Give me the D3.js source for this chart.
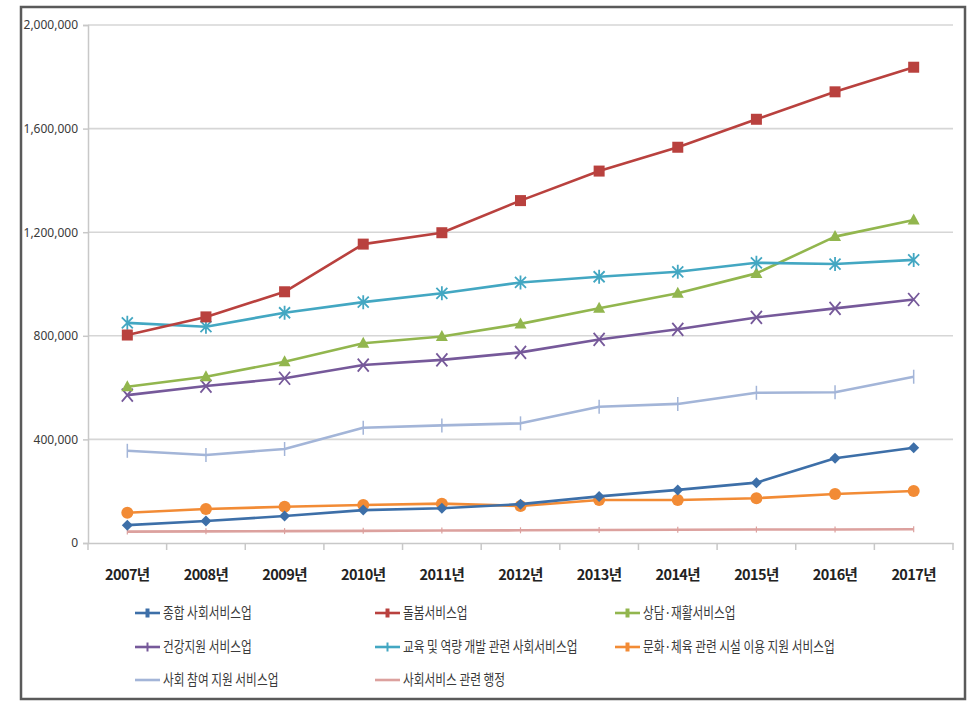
<!DOCTYPE html>
<html><head><meta charset="utf-8">
<script src="https://cdn.jsdelivr.net/npm/d3@7"></script>
<style>html,body{margin:0;padding:0;background:#fff;}svg{display:block;}</style>
</head><body>
<svg id="chart" width="974" height="701"></svg>
<script>
const years = ["2007년","2008년","2009년","2010년","2011년","2012년","2013년","2014년","2015년","2016년","2017년"];
const yTicks = [0, 400000, 800000, 1200000, 1600000, 2000000];

const seriesNames = ["종합 사회서비스업","돌봄서비스업","상담·재활서비스업","건강지원 서비스업","교육 및 역량 개발 관련 사회서비스업","문화·체육 관련 시설 이용 지원 서비스업","사회 참여 지원 서비스업","사회서비스 관련 행정"];
const s종합 = [69000, 85000, 104000, 127000, 134000, 150000, 180000, 205000, 233000, 327000, 368000];
const s돌봄 = [803000, 873000, 970000, 1154000, 1198000, 1322000, 1436000, 1528000, 1636000, 1742000, 1837000];
const s상담 = [603000, 642000, 700000, 771000, 797000, 846000, 906000, 964000, 1041000, 1183000, 1247000];
const s건강 = [571000, 606000, 636000, 687000, 707000, 736000, 786000, 825000, 871000, 906000, 940000];
const s교육 = [850000, 835000, 889000, 930000, 964000, 1006000, 1028000, 1047000, 1082000, 1077000, 1093000];
const s문화 = [117000, 131000, 140000, 147000, 152000, 143000, 166000, 166000, 173000, 189000, 201000];
const s참여 = [356000, 340000, 363000, 445000, 454000, 462000, 526000, 537000, 580000, 582000, 642000];
const s행정 = [44000, 45000, 46000, 47000, 48000, 49000, 50000, 51000, 52000, 52000, 53000];
const seriesValues = [s종합, s돌봄, s상담, s건강, s교육, s문화, s참여, s행정];

const colors = ["#3d6fa8","#b9413e","#92b64e","#76599a","#43a7c2","#f28b35","#a3b5d8","#dca19e"];
const markers = ["diamond","square","triangle","x","asterisk","circle","plus","tick"];

const svg = d3.select("#chart");
// outer frame
svg.append("rect").attr("x",21).attr("y",7).attr("width",944).attr("height",692)
  .attr("fill","none").attr("stroke","#5a5a5a").attr("stroke-width",2.5);

const L=88, R=953, T=25, B=543;
const x = d3.scaleBand().domain(years).range([L,R]);
const y = d3.scaleLinear().domain([0,2000000]).range([B,T]);
const cx = d => x(d)+x.bandwidth()/2;

// gridlines
svg.append("g").selectAll("line").data(yTicks.filter(t=>t>0)).join("line")
  .attr("x1",L).attr("x2",R).attr("y1",d=>y(d)).attr("y2",d=>y(d))
  .attr("stroke","#d6d6d6").attr("stroke-width",1.6);

// y axis
const yAxis = svg.append("g").attr("transform",`translate(${L},0)`)
  .call(d3.axisLeft(y).tickValues(yTicks).tickFormat(d3.format(",")).tickSize(5).tickPadding(5));
yAxis.select(".domain").attr("stroke","#c8c8c8").attr("stroke-width",1.5);
yAxis.selectAll(".tick line").attr("stroke","#c8c8c8").attr("stroke-width",1.5);
yAxis.selectAll("text").attr("font-family","'Liberation Sans Narrow','Noto Sans',sans-serif")
  .attr("font-size",12).attr("fill","#3a3a3a");

// x axis
const xAxis = svg.append("g").attr("transform",`translate(0,${B})`)
  .call(d3.axisBottom(x).tickSize(0));
xAxis.select(".domain").attr("stroke","#c8c8c8").attr("stroke-width",1.5);
xAxis.selectAll("text").attr("y",32).attr("dy","0.35em")
  .attr("font-family","'Liberation Sans Narrow','Noto Sans CJK KR',sans-serif")
  .attr("font-size",14.5).attr("font-weight","bold").attr("fill","#222").attr("letter-spacing","-0.6px");
// category boundary ticks
svg.append("g").selectAll("line").data(years.concat(["end"])).join("line")
  .attr("x1",(d,i)=>L+i*x.step()).attr("x2",(d,i)=>L+i*x.step())
  .attr("y1",B).attr("y2",B+7).attr("stroke","#c8c8c8").attr("stroke-width",1.5);

function drawMarker(g, type, color, px, py){
  const s = 5.5;
  if(type==="diamond"){
    g.append("path").attr("d",`M${px},${py-s}L${px+s},${py}L${px},${py+s}L${px-s},${py}Z`).attr("fill",color);
  } else if(type==="square"){
    g.append("rect").attr("x",px-5.5).attr("y",py-5.5).attr("width",11).attr("height",11).attr("fill",color);
  } else if(type==="triangle"){
    g.append("path").attr("d",`M${px},${py-6.5}L${px+6},${py+4.5}L${px-6},${py+4.5}Z`).attr("fill",color);
  } else if(type==="circle"){
    g.append("circle").attr("cx",px).attr("cy",py).attr("r",6).attr("fill",color);
  } else if(type==="x"){
    g.append("path").attr("d",`M${px-5.5},${py-6.5}L${px+5.5},${py+6.5}M${px-5.5},${py+6.5}L${px+5.5},${py-6.5}`)
      .attr("stroke",color).attr("stroke-width",1.8);
  } else if(type==="asterisk"){
    g.append("path").attr("d",`M${px-5.5},${py-5.5}L${px+5.5},${py+5.5}M${px-5.5},${py+5.5}L${px+5.5},${py-5.5}M${px},${py-7}L${px},${py+7}`)
      .attr("stroke",color).attr("stroke-width",1.8);
  } else if(type==="plus"){
    g.append("path").attr("d",`M${px},${py-7}L${px},${py+7}`).attr("stroke",color).attr("stroke-width",1.5);
  } else if(type==="tick"){
    g.append("path").attr("d",`M${px},${py-3}L${px},${py+3}`).attr("stroke",color).attr("stroke-width",1.2);
  }
}

const line = d3.line().x((d,i)=>cx(years[i])).y(d=>y(d));
// draw order: back to front
const order = [7,6,5,0,3,2,4,1];
order.forEach(k=>{
  const g = svg.append("g");
  g.append("path").datum(seriesValues[k]).attr("d",line).attr("fill","none")
    .attr("stroke",colors[k]).attr("stroke-width",2.6).attr("stroke-linejoin","round");
  seriesValues[k].forEach((v,i)=>drawMarker(g, markers[k], colors[k], cx(years[i]), y(v)));
});

// legend
const legX = [135, 375, 615];
const legY = [613, 647, 680];
const lg = svg.append("g");
seriesNames.forEach((name,k)=>{
  const col = k%3, row = Math.floor(k/3);
  const gx = legX[col], gy = legY[row];
  const g = lg.append("g");
  g.append("line").attr("x1",gx).attr("x2",gx+25).attr("y1",gy).attr("y2",gy)
    .attr("stroke",colors[k]).attr("stroke-width",2.6);
  if(k<6) {
    const m = markers[k];
    const w = (m==="diamond"||m==="square"||m==="triangle"||m==="circle") ? 4 : 2;
    g.append("path").attr("d",`M${gx+12.5},${gy-4.5}L${gx+12.5},${gy+4.5}`).attr("stroke",colors[k]).attr("stroke-width",w);
  }
  g.append("text").attr("transform",`translate(${gx+28},${gy}) scale(0.78,1)`).attr("dy","0.36em")
    .attr("font-family","'Noto Sans CJK KR',sans-serif").attr("font-size",15)
    .attr("fill","#3a3a3a").text(name);
});
</script>
</body></html>
